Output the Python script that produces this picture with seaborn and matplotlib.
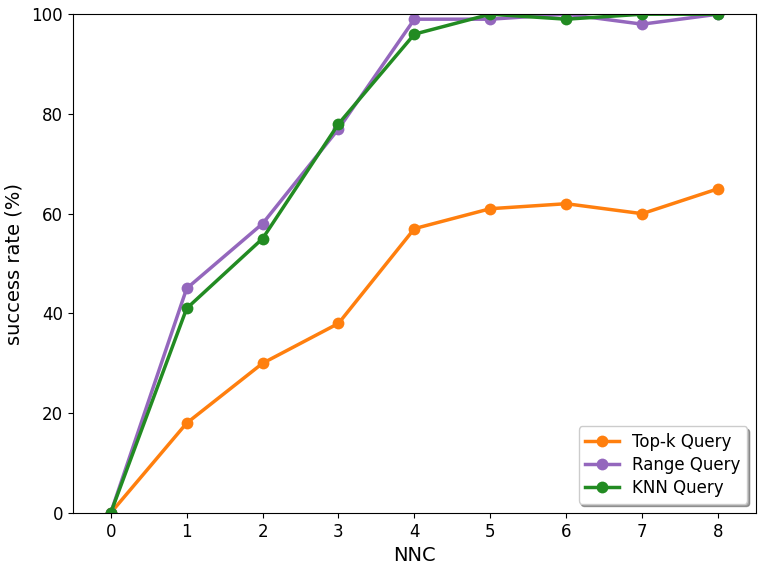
import matplotlib
matplotlib.use("Agg")
import matplotlib.pyplot as plt
import seaborn as sns
import pandas as pd

nnc = [0, 1, 2, 3, 4, 5, 6, 7, 8]
topk = [0, 18, 30, 38, 57, 61, 62, 60, 65]
range_q = [0, 45, 58, 77, 99, 99, 100, 98, 100]
knn = [0, 41, 55, 78, 96, 100, 99, 100, 100]

series = {
    "Top-k Query": (topk, "#ff7f0e"),
    "Range Query": (range_q, "#9467bd"),
    "KNN Query": (knn, "#228b22"),
}

# plain matplotlib look, no seaborn theme
plt.rcParams.update(matplotlib.rcParamsDefault)
plt.rcParams["font.family"] = ["DejaVu Sans"]

fig, ax = plt.subplots(figsize=(7.66, 5.68), dpi=100)

for name, (vals, color) in series.items():
    df = pd.DataFrame({"NNC": nnc, "rate": vals})
    sns.lineplot(data=df, x="NNC", y="rate", ax=ax, color=color, lw=2.5,
                 marker="o", markersize=8.5, markeredgewidth=0, label=name,
                 clip_on=True)

ax.set_xlim(-0.5, 8.5)
ax.set_ylim(0, 100)
ax.set_xticks(nnc)
ax.set_xlabel("NNC", fontsize=14)
ax.set_ylabel("success rate (%)", fontsize=14, labelpad=6)
ax.tick_params(labelsize=12)
ax.legend(loc="lower right", fontsize=12, shadow=True,
          labelspacing=0.3, borderaxespad=0.55)

plt.subplots_adjust(left=0.095, right=0.987, top=0.975, bottom=0.097)
plt.savefig("out.png", dpi=100)
